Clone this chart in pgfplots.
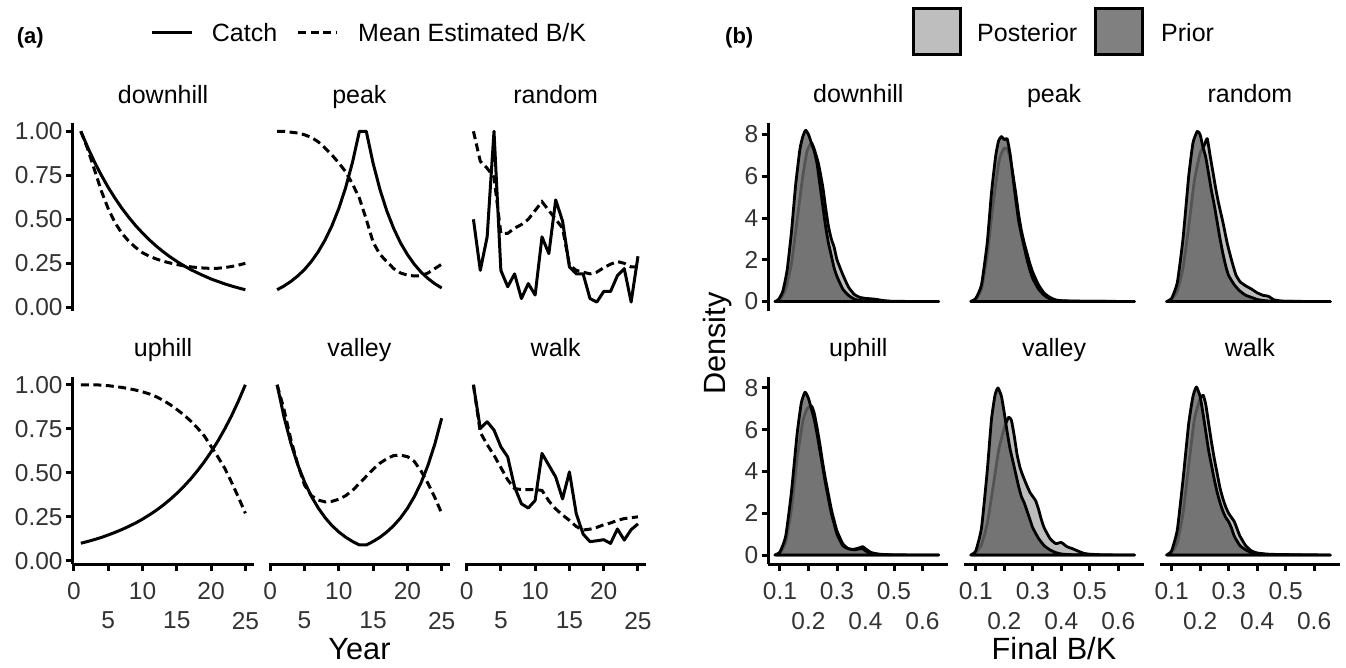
\documentclass[border=0pt]{standalone}
\usepackage{pgfplots}
\pgfplotsset{compat=1.18}
\usepackage{fontspec}
\setmainfont{Liberation Sans}
\definecolor{tickcol}{HTML}{333333}
\definecolor{postcol}{HTML}{BEBEBE}
\definecolor{priorcol}{HTML}{666666}
\definecolor{priorkey}{HTML}{808080}
\newcommand\tickfont{\fontsize{24.5}{26}\selectfont}
\newcommand\stripfont{\fontsize{25}{28}\selectfont}
\newcommand\legfont{\fontsize{25}{28}\selectfont}
\newcommand\axtfont{\fontsize{30.7}{34}\selectfont}
\newcommand\panfont{\fontsize{22}{24}\selectfont\bfseries}
\pgfplotsset{
  base/.style={scale only axis, height=187.5pt, anchor=south west,
    axis x line*=bottom, axis y line*=left,
    axis line style={-, line width=3pt, black},
    tick align=outside, major tick length=6.5pt,
    tick style={line width=3pt, black},
    tick label style={font=\tickfont, text=tickcol},
    xticklabel style={yshift=-8pt},
    /pgf/number format/assume math mode=true,
    title style={font=\stripfont, at={(0.5,1)}, anchor=base, yshift=14pt},
    clip=false},
  pa/.style={base, width=181pt, xmin=-0.2, xmax=26.2, ymin=-0.018, ymax=1.047,
    xtick={0,10,20}, extra x ticks={5,15,25},
    extra x tick style={tick label style={yshift=-30pt}},
    ytick={0,0.25,0.5,0.75,1}, yticklabels={0.00,0.25,0.50,0.75,1.00}},
  pb/.style={base, width=180pt, xmin=0.059, xmax=0.6905, ymin=-0.43, ymax=8.55,
    xtick={0.1,0.3,0.5}, extra x ticks={0.2,0.4,0.6},
    extra x tick style={tick label style={yshift=-30pt}},
    ytick={0,2,4,6,8}},
  catch/.style={black, line width=3pt, line join=round, no markers},
  est/.style={black, line width=3pt, dash pattern=on 8pt off 4.5pt, no markers},
  post/.style={draw=black, line width=2.8pt, fill=postcol, line join=round, no markers, smooth, tension=0.3},
  prior/.style={draw=black, line width=2.8pt, fill=priorcol, fill opacity=0.83, line join=round, no markers, smooth, tension=0.3},
}
\begin{document}
\begin{tikzpicture}
\useasboundingbox (0,0) rectangle (1346pt,-667pt);
% ---------- panel (a) legend ----------
\node[anchor=base west, font=\panfont, inner sep=0] at (16.7pt,-43pt) {(a)};
\draw[line width=3pt] (151.7pt,-32.7pt) -- (191.7pt,-32.7pt);
\node[anchor=base west, font=\legfont, inner sep=0] at (211.7pt,-41pt) {Catch};
\draw[line width=3pt, dash pattern=on 8pt off 4.5pt] (298pt,-32.7pt) -- (337pt,-32.7pt);
\node[anchor=base west, font=\legfont, inner sep=0] at (358pt,-41pt) {Mean Estimated B/K};
% ---------- panel (b) legend ----------
\node[anchor=base west, font=\panfont, inner sep=0] at (725pt,-43pt) {(b)};
\draw[line width=3pt, fill=postcol] (913pt,-8.5pt) rectangle (960pt,-54pt);
\node[anchor=base west, font=\legfont, inner sep=0] at (977pt,-41.5pt) {Posterior};
\draw[line width=3pt, fill=priorkey] (1095.5pt,-8.5pt) rectangle (1142.5pt,-54pt);
\node[anchor=base west, font=\legfont, inner sep=0] at (1161pt,-41.5pt) {Prior};
% ---------- axis titles ----------
\node[anchor=base, font=\axtfont, inner sep=0] at (359.5pt,-659pt) {Year};
\node[anchor=base, font=\axtfont, inner sep=0] at (1054pt,-659pt) {Final B/K};
\node[anchor=base, font=\axtfont, inner sep=0, rotate=90] at (725pt,-343.5pt) {Density};

% ================= panel (a) =================
\begin{axis}[pa, at={(72.6pt,-310.5pt)}, hide x axis, title={downhill}]
\addplot[catch] coordinates {(1,1.000)(2,0.909)(3,0.825)(4,0.750)(5,0.681)(6,0.619)(7,0.562)(8,0.511)(9,0.464)(10,0.422)(11,0.383)(12,0.348)(13,0.316)(14,0.287)(15,0.261)(16,0.237)(17,0.215)(18,0.196)(19,0.178)(20,0.161)(21,0.147)(22,0.133)(23,0.121)(24,0.110)(25,0.100)};
\addplot[est] coordinates {(1,1.00)(2,0.90)(3,0.78)(4,0.66)(5,0.56)(6,0.48)(7,0.42)(8,0.375)(9,0.34)(10,0.31)(11,0.29)(12,0.275)(13,0.262)(14,0.252)(15,0.243)(16,0.236)(17,0.23)(18,0.226)(19,0.223)(20,0.221)(21,0.222)(22,0.226)(23,0.232)(24,0.24)(25,0.25)};
\end{axis}
\begin{axis}[pa, at={(268.9pt,-310.5pt)}, hide x axis, hide y axis, title={peak}]
\addplot[catch] coordinates {(1,0.100)(2,0.121)(3,0.147)(4,0.178)(5,0.215)(6,0.261)(7,0.316)(8,0.383)(9,0.464)(10,0.562)(11,0.681)(12,0.825)(13,1.0)(14,1.0)(15,0.818)(16,0.669)(17,0.547)(18,0.448)(19,0.366)(20,0.300)(21,0.245)(22,0.200)(23,0.164)(24,0.134)(25,0.110)};
\addplot[est] coordinates {(1,1.0)(2,1.0)(3,0.995)(4,0.99)(5,0.98)(6,0.965)(7,0.94)(8,0.905)(9,0.865)(10,0.82)(11,0.77)(12,0.70)(13,0.62)(14,0.50)(15,0.37)(16,0.30)(17,0.26)(18,0.22)(19,0.195)(20,0.183)(21,0.178)(22,0.18)(23,0.195)(24,0.22)(25,0.245)};
\end{axis}
\begin{axis}[pa, at={(465.2pt,-310.5pt)}, hide x axis, hide y axis, title={random}]
\addplot[catch] coordinates {(1,0.50)(2,0.21)(3,0.40)(4,1.00)(5,0.21)(6,0.117)(7,0.19)(8,0.05)(9,0.135)(10,0.07)(11,0.40)(12,0.305)(13,0.61)(14,0.49)(15,0.23)(16,0.19)(17,0.19)(18,0.05)(19,0.03)(20,0.09)(21,0.09)(22,0.18)(23,0.22)(24,0.03)(25,0.29)};
\addplot[est] coordinates {(1,1.0)(2,0.83)(3,0.79)(4,0.74)(5,0.42)(6,0.42)(7,0.45)(8,0.47)(9,0.50)(10,0.55)(11,0.60)(12,0.55)(13,0.50)(14,0.45)(15,0.24)(16,0.21)(17,0.20)(18,0.19)(19,0.20)(20,0.225)(21,0.245)(22,0.26)(23,0.25)(24,0.23)(25,0.23)};
\end{axis}
\begin{axis}[pa, at={(72.6pt,-564pt)}, title={uphill}]
\addplot[catch] coordinates {(1,0.100)(2,0.110)(3,0.121)(4,0.133)(5,0.147)(6,0.162)(7,0.178)(8,0.196)(9,0.215)(10,0.237)(11,0.261)(12,0.287)(13,0.316)(14,0.348)(15,0.383)(16,0.422)(17,0.464)(18,0.511)(19,0.562)(20,0.619)(21,0.681)(22,0.750)(23,0.825)(24,0.909)(25,1.0)};
\addplot[est] coordinates {(1,1.0)(2,1.0)(3,1.0)(4,0.998)(5,0.995)(6,0.99)(7,0.985)(8,0.978)(9,0.97)(10,0.96)(11,0.948)(12,0.932)(13,0.912)(14,0.888)(15,0.86)(16,0.83)(17,0.795)(18,0.755)(19,0.71)(20,0.65)(21,0.59)(22,0.525)(23,0.445)(24,0.36)(25,0.27)};
\end{axis}
\begin{axis}[pa, at={(268.9pt,-564pt)}, hide y axis, title={valley}]
\addplot[catch] coordinates {(1,1.0)(2,0.818)(3,0.669)(4,0.547)(5,0.448)(6,0.366)(7,0.300)(8,0.245)(9,0.200)(10,0.164)(11,0.134)(12,0.110)(13,0.09)(14,0.09)(15,0.110)(16,0.134)(17,0.164)(18,0.200)(19,0.244)(20,0.298)(21,0.364)(22,0.444)(23,0.543)(24,0.663)(25,0.81)};
\addplot[est] coordinates {(1,1.0)(2,0.86)(3,0.69)(4,0.55)(5,0.43)(6,0.37)(7,0.345)(8,0.335)(9,0.338)(10,0.35)(11,0.37)(12,0.40)(13,0.44)(14,0.48)(15,0.52)(16,0.555)(17,0.58)(18,0.598)(19,0.60)(20,0.592)(21,0.565)(22,0.51)(23,0.44)(24,0.36)(25,0.27)};
\end{axis}
\begin{axis}[pa, at={(465.2pt,-564pt)}, hide y axis, title={walk}]
\addplot[catch] coordinates {(1,1.0)(2,0.752)(3,0.79)(4,0.743)(5,0.648)(6,0.59)(7,0.42)(8,0.324)(9,0.30)(10,0.343)(11,0.61)(12,0.543)(13,0.476)(14,0.352)(15,0.505)(16,0.267)(17,0.152)(18,0.109)(19,0.114)(20,0.12)(21,0.099)(22,0.181)(23,0.118)(24,0.177)(25,0.21)};
\addplot[est] coordinates {(1,1.0)(2,0.73)(3,0.66)(4,0.60)(5,0.53)(6,0.46)(7,0.41)(8,0.405)(9,0.405)(10,0.405)(11,0.40)(12,0.34)(13,0.295)(14,0.26)(15,0.23)(16,0.195)(17,0.175)(18,0.18)(19,0.19)(20,0.205)(21,0.215)(22,0.23)(23,0.24)(24,0.245)(25,0.25)};
\end{axis}

% ================= panel (b) =================
\begin{axis}[pb, at={(768.3pt,-310.5pt)}, hide x axis, title={downhill}]
\addplot[post] coordinates {(0.085,0)(0.10,0.1)(0.12,0.6)(0.14,1.8)(0.16,3.9)(0.18,6.0)(0.195,7.2)(0.21,7.6)(0.22,7.3)(0.235,6.6)(0.25,5.5)(0.26,4.5)(0.27,3.6)(0.28,3.0)(0.29,2.6)(0.30,2.0)(0.32,1.3)(0.34,0.7)(0.36,0.35)(0.38,0.2)(0.40,0.15)(0.42,0.13)(0.44,0.1)(0.46,0.05)(0.50,0.01)(0.657,0)} \closedcycle;
\addplot[prior] coordinates {(0.082,0)(0.095,0.1)(0.11,0.5)(0.125,1.5)(0.14,3.3)(0.155,5.6)(0.17,7.3)(0.18,7.9)(0.19,8.2)(0.20,8.0)(0.21,7.6)(0.22,7.2)(0.23,6.6)(0.24,5.6)(0.25,4.6)(0.26,3.6)(0.27,2.8)(0.28,2.2)(0.29,1.6)(0.30,1.2)(0.32,0.6)(0.34,0.3)(0.36,0.12)(0.38,0.05)(0.40,0.03)(0.45,0.01)(0.50,0.005)(0.657,0)} \closedcycle;
\end{axis}
\begin{axis}[pb, at={(964.1pt,-310.5pt)}, hide x axis, hide y axis, title={peak}]
\addplot[post] coordinates {(0.085,0)(0.10,0.1)(0.12,0.6)(0.14,2.2)(0.16,4.6)(0.18,6.6)(0.19,7.1)(0.20,7.35)(0.21,7.3)(0.22,6.9)(0.23,6.1)(0.24,5.2)(0.25,4.2)(0.26,3.4)(0.27,2.8)(0.28,2.3)(0.29,1.8)(0.30,1.4)(0.32,0.8)(0.34,0.4)(0.36,0.2)(0.38,0.08)(0.40,0.04)(0.45,0.02)(0.55,0.01)(0.657,0)} \closedcycle;
\addplot[prior] coordinates {(0.082,0)(0.10,0.15)(0.12,0.8)(0.14,2.8)(0.155,5.2)(0.17,7.0)(0.18,7.7)(0.19,7.9)(0.20,7.75)(0.21,7.8)(0.22,7.1)(0.23,6.0)(0.24,4.9)(0.25,3.9)(0.26,3.2)(0.27,2.6)(0.28,2.0)(0.29,1.5)(0.30,1.1)(0.32,0.6)(0.34,0.3)(0.36,0.12)(0.38,0.05)(0.42,0.02)(0.50,0.01)(0.657,0)} \closedcycle;
\end{axis}
\begin{axis}[pb, at={(1159.9pt,-310.5pt)}, hide x axis, hide y axis, title={random}]
\addplot[post] coordinates {(0.085,0)(0.10,0.1)(0.12,0.5)(0.14,1.6)(0.16,3.6)(0.18,5.8)(0.20,7.1)(0.215,7.5)(0.225,7.8)(0.235,7.0)(0.245,6.2)(0.255,5.4)(0.265,4.7)(0.28,3.8)(0.295,2.8)(0.31,2.0)(0.325,1.3)(0.34,0.95)(0.36,0.75)(0.38,0.6)(0.40,0.42)(0.42,0.3)(0.44,0.25)(0.46,0.08)(0.50,0.01)(0.657,0)} \closedcycle;
\addplot[prior] coordinates {(0.082,0)(0.10,0.15)(0.12,0.9)(0.14,3.0)(0.16,6.0)(0.175,7.6)(0.19,8.15)(0.20,8.0)(0.21,7.4)(0.22,6.9)(0.23,6.1)(0.24,5.3)(0.25,4.6)(0.26,3.8)(0.27,3.0)(0.28,2.3)(0.29,1.7)(0.30,1.25)(0.32,0.8)(0.34,0.5)(0.36,0.3)(0.38,0.2)(0.40,0.1)(0.42,0.05)(0.45,0.02)(0.50,0.01)(0.657,0)} \closedcycle;
\end{axis}
\begin{axis}[pb, at={(768.3pt,-564pt)}, title={uphill}]
\addplot[post] coordinates {(0.085,0)(0.10,0.1)(0.12,0.6)(0.14,2.2)(0.16,4.6)(0.18,6.4)(0.195,7.0)(0.21,7.15)(0.22,6.8)(0.23,6.1)(0.24,5.3)(0.25,4.4)(0.26,3.6)(0.27,2.9)(0.28,2.2)(0.29,1.65)(0.30,1.15)(0.32,0.55)(0.34,0.3)(0.36,0.28)(0.38,0.35)(0.39,0.4)(0.40,0.3)(0.42,0.12)(0.45,0.04)(0.50,0.01)(0.657,0)} \closedcycle;
\addplot[prior] coordinates {(0.082,0)(0.10,0.15)(0.12,0.9)(0.14,3.0)(0.16,5.8)(0.175,7.3)(0.188,7.8)(0.20,7.5)(0.21,7.0)(0.22,6.5)(0.23,5.8)(0.24,5.0)(0.25,4.2)(0.26,3.4)(0.27,2.7)(0.28,2.0)(0.29,1.5)(0.30,1.0)(0.32,0.45)(0.34,0.3)(0.36,0.25)(0.38,0.3)(0.39,0.3)(0.40,0.2)(0.42,0.07)(0.45,0.02)(0.50,0.005)(0.657,0)} \closedcycle;
\end{axis}
\begin{axis}[pb, at={(964.1pt,-564pt)}, hide y axis, title={valley}]
\addplot[post] coordinates {(0.085,0)(0.10,0.1)(0.12,0.5)(0.14,1.5)(0.16,3.2)(0.18,5.0)(0.20,6.1)(0.215,6.6)(0.225,6.45)(0.235,5.7)(0.245,4.8)(0.255,4.2)(0.265,3.8)(0.28,3.3)(0.29,3.0)(0.30,2.8)(0.31,2.6)(0.32,2.2)(0.33,1.7)(0.34,1.3)(0.36,0.8)(0.38,0.55)(0.40,0.6)(0.42,0.4)(0.44,0.3)(0.46,0.18)(0.48,0.08)(0.50,0.04)(0.55,0.01)(0.657,0)} \closedcycle;
\addplot[prior] coordinates {(0.082,0)(0.10,0.2)(0.12,1.3)(0.14,4.0)(0.155,6.5)(0.168,7.7)(0.178,8.0)(0.19,7.6)(0.20,6.8)(0.21,5.9)(0.22,5.1)(0.23,4.5)(0.24,3.9)(0.25,3.3)(0.26,2.8)(0.27,2.5)(0.28,2.1)(0.29,1.7)(0.30,1.3)(0.32,0.8)(0.34,0.45)(0.36,0.25)(0.38,0.12)(0.40,0.05)(0.43,0.02)(0.50,0.005)(0.657,0)} \closedcycle;
\end{axis}
\begin{axis}[pb, at={(1159.9pt,-564pt)}, hide y axis, title={walk}]
\addplot[post] coordinates {(0.085,0)(0.10,0.1)(0.12,0.6)(0.14,2.0)(0.16,4.3)(0.18,6.5)(0.20,7.5)(0.211,7.65)(0.22,7.2)(0.23,6.3)(0.24,5.4)(0.25,4.6)(0.26,3.9)(0.27,3.2)(0.28,2.7)(0.29,2.3)(0.30,2.0)(0.31,1.8)(0.32,1.6)(0.33,1.25)(0.34,0.9)(0.36,0.45)(0.38,0.2)(0.40,0.1)(0.44,0.04)(0.50,0.02)(0.55,0.015)(0.657,0)} \closedcycle;
\addplot[prior] coordinates {(0.082,0)(0.10,0.2)(0.12,1.2)(0.14,3.6)(0.16,6.3)(0.175,7.6)(0.187,8.05)(0.20,7.6)(0.21,6.8)(0.22,5.9)(0.23,5.0)(0.24,4.3)(0.25,3.6)(0.26,3.0)(0.27,2.5)(0.28,2.1)(0.29,1.8)(0.30,1.6)(0.31,1.3)(0.32,0.9)(0.34,0.45)(0.36,0.25)(0.38,0.12)(0.40,0.06)(0.44,0.02)(0.50,0.01)(0.657,0)} \closedcycle;
\end{axis}
\end{tikzpicture}
\end{document}
